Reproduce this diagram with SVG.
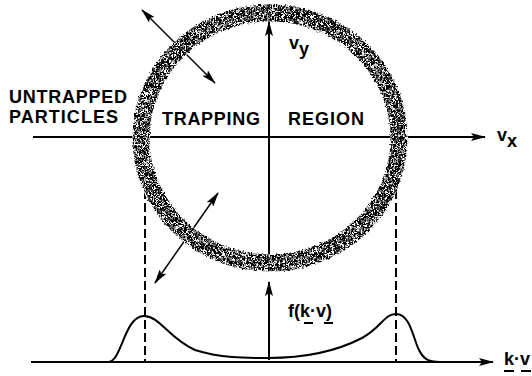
<svg xmlns="http://www.w3.org/2000/svg" width="532" height="376" viewBox="0 0 532 376">
<style>
.ln{stroke:#000;stroke-width:2;fill:none}
.ar{stroke:#000;stroke-width:2;fill:none;marker-end:url(#ah)}
.dar{stroke:#000;stroke-width:1.5;fill:none;marker-end:url(#ah);marker-start:url(#ah)}
.dash{stroke:#000;stroke-width:2;stroke-dasharray:9 4;fill:none}
.t{font-family:"Liberation Sans",Arial,Helvetica,sans-serif;font-weight:bold;font-size:18px;fill:#000}
.s{font-family:"Liberation Sans",Arial,Helvetica,sans-serif;font-weight:bold;font-size:18px;fill:#000}
</style>
<defs>
<marker id="ah" viewBox="0 0 15 8" refX="14" refY="4" markerWidth="15" markerHeight="8" markerUnits="userSpaceOnUse" orient="auto-start-reverse">
<path d="M0,0 L15,4 L0,8 L3,4 z" fill="#000"/>
</marker>
<filter id="grain" x="-10%" y="-10%" width="120%" height="120%">
<feTurbulence type="fractalNoise" baseFrequency="0.9" numOctaves="3" seed="11" result="n"/>
<feColorMatrix in="n" type="matrix" values="0 0 0 0 0  0 0 0 0 0  0 0 0 0 0  5 0 0 0 -1.75" result="m"/>
<feComposite in="m" in2="SourceGraphic" operator="in" result="c"/>
<feTurbulence type="fractalNoise" baseFrequency="0.5" numOctaves="2" seed="4" result="d"/>
<feDisplacementMap in="c" in2="d" scale="4" xChannelSelector="R" yChannelSelector="G"/>
</filter>
</defs>
<rect width="532" height="376" fill="#fff"/>
<g id="connectors">
<line class="ar" x1="33" y1="137" x2="485" y2="137"/>
<line class="ar" x1="269" y1="266" x2="269" y2="22"/>
<line class="ar" x1="269" y1="360" x2="269" y2="282"/>
<line class="ar" x1="31" y1="362" x2="493" y2="362"/>
<line class="dar" x1="142" y1="10" x2="215" y2="83"/>
<line class="dar" x1="218" y1="193" x2="155" y2="283"/>
<line class="dash" x1="145" y1="190" x2="145" y2="362"/>
<line class="dash" x1="396" y1="190" x2="396" y2="362"/>
</g>
<g id="trapping-ring">
<ellipse cx="270" cy="138" rx="129" ry="125" fill="none" stroke="#fff" stroke-width="18"/>
<ellipse cx="270" cy="138" rx="129" ry="125" fill="none" stroke="#000" stroke-width="17" filter="url(#grain)"/>
</g>
<g id="distribution">
<path class="ln" stroke-width="2.4" d="M31,362 L108,362 C122,362 124,316 144,316 C160,316 168,338 195,350 C220,358 245,358 268,358 C300,358 335,352 362,338 C382,327 384,314 396,314 C409,314 412,333 418,348 C423,359 428,362 440,362"/>
</g>
<g id="label-untrapped">
<text class="t" x="9" y="103" textLength="118" lengthAdjust="spacing">UNTRAPPED</text>
<text class="t" x="9" y="123" textLength="109" lengthAdjust="spacing">PARTICLES</text>
</g>
<g id="label-trapping">
<text class="t" x="162" y="125" textLength="98" lengthAdjust="spacing">TRAPPING</text>
<text class="t" x="288" y="125" textLength="76" lengthAdjust="spacing">REGION</text>
</g>
<g id="label-vy">
<text class="s" x="289" y="49">v<tspan y="55">y</tspan></text>
</g>
<g id="label-vx">
<text class="s" x="497" y="141">v<tspan y="147">x</tspan></text>
</g>
<g id="label-f">
<text class="s" x="288" y="317">f(k·v)</text>
<line class="ln" stroke-width="1.6" x1="304" y1="323" x2="313" y2="323"/>
<line class="ln" stroke-width="1.6" x1="324" y1="323" x2="333" y2="323"/>
</g>
<g id="label-kv">
<text class="s" x="504" y="365">k·v</text>
<line class="ln" stroke-width="1.6" x1="504" y1="371" x2="514" y2="371"/>
<line class="ln" stroke-width="1.6" x1="521" y1="371" x2="531" y2="371"/>
</g>
</svg>
